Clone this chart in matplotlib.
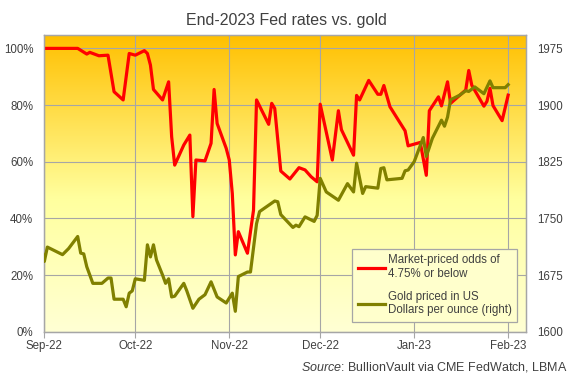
"""
End-2023 Fed rates vs. gold
===========================
Market-priced odds of a 4.75% (or lower) Fed rate at end-2023,
against the gold price in US Dollars.
"""

import numpy as np
import matplotlib
matplotlib.use('Agg')
import matplotlib.pyplot as plt
import matplotlib.dates as mdates
from matplotlib.colors import LinearSegmentedColormap
from matplotlib.lines import Line2D

plt.rcParams['font.family'] = ['Liberation Sans', 'DejaVu Sans']
plt.rcParams['mathtext.fontset'] = 'custom'
plt.rcParams['mathtext.rm'] = 'Liberation Sans'
plt.rcParams['mathtext.it'] = 'Liberation Sans:italic'

# ==========================================
# Data
# ==========================================

odds_dates = [
    '2022-09-01', '2022-09-12', '2022-09-15', '2022-09-16', '2022-09-19', '2022-09-22',
    '2022-09-24', '2022-09-27', '2022-09-29', '2022-10-01', '2022-10-04', '2022-10-05',
    '2022-10-06', '2022-10-07', '2022-10-10', '2022-10-12', '2022-10-13', '2022-10-14',
    '2022-10-17', '2022-10-19', '2022-10-20', '2022-10-21', '2022-10-24', '2022-10-26',
    '2022-10-27', '2022-10-28', '2022-10-31', '2022-11-01', '2022-11-02', '2022-11-03',
    '2022-11-04', '2022-11-07', '2022-11-09', '2022-11-10', '2022-11-14', '2022-11-15',
    '2022-11-16', '2022-11-18', '2022-11-21', '2022-11-24', '2022-11-26', '2022-11-28',
    '2022-11-30', '2022-12-01', '2022-12-05', '2022-12-07', '2022-12-08', '2022-12-12',
    '2022-12-13', '2022-12-14', '2022-12-17', '2022-12-20', '2022-12-21', '2022-12-22',
    '2022-12-24', '2022-12-29', '2022-12-30', '2023-01-03', '2023-01-05', '2023-01-06',
    '2023-01-09', '2023-01-10', '2023-01-12', '2023-01-13', '2023-01-18', '2023-01-19',
    '2023-01-20', '2023-01-24', '2023-01-25', '2023-01-26', '2023-01-27', '2023-01-30',
    '2023-02-01',
]
odds_pct = [
    100, 100, 98.0, 98.6, 97.4, 97.6,
    84.7, 81.8, 98.2, 97.6, 99.2, 98.2,
    94.1, 85.5, 81.8, 88.2, 68.8, 58.8,
    65.9, 69.4, 40.6, 60.6, 60.3, 66.5,
    85.5, 73.5, 64.7, 60.6, 48.8, 27.1,
    35.3, 27.7, 42.9, 81.8, 73.2, 80.6,
    78.8, 56.7, 53.9, 57.9, 57.1, 54.7,
    52.9, 80.3, 60.6, 78.0, 71.3, 62.3,
    83.4, 81.8, 88.7, 83.8, 83.8, 86.9,
    79.4, 70.9, 65.6, 66.8, 55.2, 78.0,
    82.9, 79.7, 88.2, 80.6, 85.3, 92.2,
    87.0, 79.6, 81.3, 85.9, 79.8, 74.5,
    83.5,
]

gold_dates = [
    '2022-08-31', '2022-09-01', '2022-09-02', '2022-09-07', '2022-09-09', '2022-09-12',
    '2022-09-13', '2022-09-14', '2022-09-15', '2022-09-17', '2022-09-20', '2022-09-22',
    '2022-09-23', '2022-09-24', '2022-09-27', '2022-09-28', '2022-09-29', '2022-09-30',
    '2022-10-01', '2022-10-04', '2022-10-05', '2022-10-06', '2022-10-07', '2022-10-08',
    '2022-10-10', '2022-10-11', '2022-10-12', '2022-10-13', '2022-10-14', '2022-10-17',
    '2022-10-18', '2022-10-20', '2022-10-22', '2022-10-24', '2022-10-26', '2022-10-28',
    '2022-10-31', '2022-11-02', '2022-11-03', '2022-11-04', '2022-11-07', '2022-11-08',
    '2022-11-10', '2022-11-11', '2022-11-16', '2022-11-17', '2022-11-18', '2022-11-22',
    '2022-11-23', '2022-11-24', '2022-11-26', '2022-11-29', '2022-11-30', '2022-12-01',
    '2022-12-03', '2022-12-07', '2022-12-10', '2022-12-12', '2022-12-13', '2022-12-15',
    '2022-12-16', '2022-12-20', '2022-12-21', '2022-12-22', '2022-12-23', '2022-12-28',
    '2022-12-29', '2022-12-30', '2023-01-01', '2023-01-04', '2023-01-05', '2023-01-07',
    '2023-01-10', '2023-01-11', '2023-01-12', '2023-01-13', '2023-01-16', '2023-01-18',
    '2023-01-19', '2023-01-21', '2023-01-24', '2023-01-26', '2023-01-27', '2023-01-31',
    '2023-02-01',
]
gold_usd = [
    1712, 1693, 1712, 1702, 1710, 1726,
    1704, 1703, 1686, 1664, 1664, 1671,
    1671, 1643, 1643, 1633, 1651, 1654,
    1670, 1668, 1715, 1699, 1715, 1695,
    1675, 1664, 1670, 1646, 1647, 1664,
    1654, 1631, 1643, 1649, 1666, 1646,
    1638, 1651, 1627, 1673, 1679, 1679,
    1743, 1759, 1773, 1772, 1755, 1738,
    1741, 1739, 1752, 1746, 1754, 1803,
    1785, 1774, 1796, 1785, 1823, 1783,
    1792, 1790, 1816, 1817, 1801, 1803,
    1813, 1814, 1825, 1857, 1832, 1856,
    1880, 1872, 1884, 1907, 1913, 1919,
    1918, 1924, 1915, 1932, 1923, 1923,
    1927,
]

pct_ticks = [0, 20, 40, 60, 80, 100]
usd_ticks = [1600, 1675, 1750, 1825, 1900, 1975]

odds_label = 'Market-priced odds of\n4.75% or below'
gold_label = 'Gold priced in US\nDollars per ounce (right)'

# ==========================================
# Styles
# ==========================================

RED = '#FF0000'
OLIVE = '#808000'
GRID = '#A6A6A6'
TEXT = '#404040'

# ==========================================
# Figure
# ==========================================

fig = plt.figure(figsize=(5.72, 3.81), dpi=100, facecolor='white')
ax = fig.add_axes([0.0775, 0.1294, 0.8427, 0.7793])
ax2 = ax.twinx()

# gradient background (orange at top -> pale yellow at bottom)
cmap = LinearSegmentedColormap.from_list(
    'bg', [(0.0, '#FFFFD4'), (0.45, '#FFFF9E'), (1.0, '#FFC000')])
grad = np.linspace(0, 1, 256).reshape(-1, 1)
ax.imshow(grad, cmap=cmap, aspect='auto', origin='lower',
          extent=[0, 1, 0, 1], transform=ax.transAxes, zorder=0)

x_odds = np.array(odds_dates, dtype='datetime64[D]')
x_gold = np.array(gold_dates, dtype='datetime64[D]')

ax.plot(x_odds, odds_pct, color=RED, lw=2.3, zorder=3, solid_joinstyle='round')
ax2.plot(x_gold, gold_usd, color=OLIVE, lw=2.3, zorder=3, solid_joinstyle='round')

# limits: ~105% of the left scale maps to the top of the plot
ymax = 104.8
ax.set_ylim(0, ymax)
ax2.set_ylim(1600, 1600 + ymax * 3.75)
ax.set_xlim(np.datetime64('2022-09-01'), np.datetime64('2023-02-07'))

ax.set_yticks(pct_ticks)
ax.set_yticklabels([f'{v}%' for v in pct_ticks])
ax2.set_yticks(usd_ticks)
ax.xaxis.set_major_locator(mdates.MonthLocator())
ax.xaxis.set_major_formatter(mdates.DateFormatter('%b-%y'))

ax.grid(True, color=GRID, lw=0.8, zorder=1)
ax.set_axisbelow(False)
for line in ax.get_xgridlines() + ax.get_ygridlines():
    line.set_zorder(1)

ax.tick_params(axis='y', length=0, pad=8, labelsize=8.3, labelcolor=TEXT)
ax2.tick_params(axis='y', length=0, pad=8, labelsize=8.3, labelcolor=TEXT)
ax.tick_params(axis='x', length=4, width=0.8, color=GRID, pad=2,
               labelsize=8.3, labelcolor=TEXT)

for a in (ax, ax2):
    for sp in a.spines.values():
        sp.set_color(GRID)
        sp.set_linewidth(0.9)
ax2.patch.set_visible(False)

# legend
handles = [Line2D([], [], color=RED, lw=2.3), Line2D([], [], color=OLIVE, lw=2.3)]
leg = ax2.legend(handles, [odds_label, gold_label], loc='lower right',
                 bbox_to_anchor=(0.981, 0.032), borderaxespad=0,
                 fontsize=8.3, frameon=True, fancybox=False, framealpha=1,
                 facecolor='#FFFFCC', edgecolor=GRID, handlelength=2.4,
                 handletextpad=0.2, labelspacing=0.9, borderpad=0.5)
leg.get_frame().set_linewidth(0.9)
for t in leg.get_texts():
    t.set_color(TEXT)

# title and source
fig.text(0.5, 0.945, 'End-2023 Fed rates vs. gold', ha='center', va='center',
         fontsize=11.5, color=TEXT)
fig.text(0.993, 0.018, r'$\mathit{Source}$: BullionVault via CME FedWatch, LBMA',
         ha='right', va='bottom', fontsize=9, color=TEXT)

fig.savefig('out.png', dpi=100, facecolor='white')
